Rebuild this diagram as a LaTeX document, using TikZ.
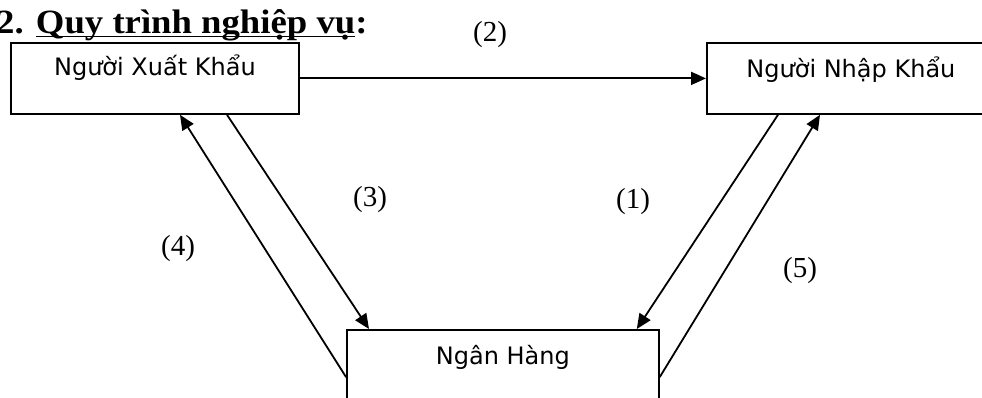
\documentclass[tikz,border=0pt]{standalone}
\usepackage{fontspec}
\setmainfont{Liberation Serif}
\newfontfamily\boxfont{DejaVu Sans}
\newfontfamily\headfont[FakeStretch=1.08]{Liberation Serif}
\usetikzlibrary{arrows.meta}
% underline that runs through the descenders
\newcommand\wordline[1]{\setbox0\hbox{#1}\rlap{\rule[-4pt]{\wd0}{1.8pt}}\box0}

\begin{document}
\begin{tikzpicture}[x=1pt,y=-1pt,>={Triangle[length=15pt,width=13pt]},line cap=round,line join=round,
  box/.style={draw,line width=1.8pt,line cap=butt,line join=miter,inner sep=0pt,anchor=north west,font=\boxfont\fontsize{24}{27}\selectfont},
  link/.style={->,line width=1.8pt},
  tag/.style={anchor=base,font=\fontsize{29}{33}\selectfont}]
\clip (0,0) rectangle (982,398);
\node[anchor=base west,inner sep=0pt,font=\headfont\bfseries\fontsize{34}{38}\selectfont] (title) at (-4,33.5) {2. \wordline{Quy trình nghiệp vụ}:};
\node[box,minimum width=288pt,text height=33pt,text depth=38pt] (xk) at (10,42) {Người Xuất Khẩu};
\node[box,minimum width=288pt,text height=35pt,text depth=36pt] (nk) at (706,42) {Người Nhập Khẩu};
\node[box,minimum width=312pt,text height=35pt,text depth=36pt] (nh) at (346,329) {Ngân Hàng};
\coordinate (xkA) at ([xshift=170pt]xk.south west);
\coordinate (xkB) at ([xshift=217pt]xk.south west);
\coordinate (nkA) at ([xshift=72pt]nk.south west);
\coordinate (nkB) at ([xshift=114pt]nk.south west);
\coordinate (nhA) at ([xshift=23pt]nh.north west);
\coordinate (nhB) at ([xshift=-23pt]nh.north east);
\coordinate (nhL) at ([yshift=-48pt]nh.north west);
\coordinate (nhR) at ([yshift=-48pt]nh.north east);
\draw[link] (xk.east) -- (nk.west);
\draw[link] (nkA) -- (nhB);
\draw[link] (xkB) -- (nhA);
\draw[link] (nhL) -- (xkA);
\draw[link] (nhR) -- (nkB);
\node[tag] (n1) at (633,208) {(1)};
\node[tag] (n2) at (490,42) {(2)};
\node[tag] (n3) at (370,207) {(3)};
\node[tag] (n4) at (178,255) {(4)};
\node[tag] (n5) at (800,277) {(5)};
\end{tikzpicture}
\end{document}
